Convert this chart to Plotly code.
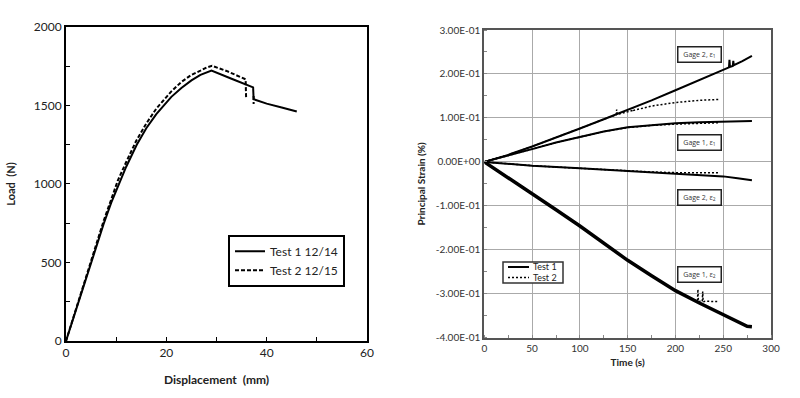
import plotly.graph_objects as go

# ---------------- Left chart: Load vs Displacement ----------------
disp_test1 = [0, 2.5, 5, 7.5, 9, 10.5, 12, 14.1, 16, 18, 19.5, 21, 23, 25, 26.8, 28, 29, 33, 37.3, 37.4, 40, 43, 46]
load_test1 = [0, 250, 500, 745, 880, 1000, 1110, 1250, 1355, 1445, 1500, 1555, 1612, 1660, 1695, 1712, 1722, 1670, 1615, 1540, 1512, 1487, 1462]

disp_test2 = [0, 2.5, 5, 7.5, 9, 10.3, 12, 14, 16, 18, 19.5, 21, 23, 25, 26.8, 28, 29.1, 32, 35.8, 35.9, None, 37.4, 37.4]
load_test2 = [0, 255, 510, 765, 900, 1020, 1140, 1275, 1385, 1480, 1535, 1590, 1650, 1695, 1722, 1742, 1753, 1720, 1667, 1550, None, 1560, 1510]

left_xticks = [0, 20, 40, 60]
left_yticks = [0, 500, 1000, 1500, 2000]

# ---------------- Right chart: Principal strain vs time ----------------
t_g2e1_t1 = [0, 25, 50, 75, 100, 125, 150, 175, 200, 225, 250, 256, 256.5, 257, 260, 260.5, 261, 270, 280]
s_g2e1_t1 = [0, 0.016, 0.035, 0.055, 0.076, 0.097, 0.118, 0.140, 0.163, 0.186, 0.209, 0.215, 0.232, 0.216, 0.218, 0.230, 0.220, 0.229, 0.241]
t_g2e1_t2 = [0, 25, 50, 75, 100, 125, 138, 138.5, 139, 150, 155, 155.5, 156, 175, 200, 225, 245]
s_g2e1_t2 = [0, 0.016, 0.035, 0.055, 0.076, 0.097, 0.107, 0.119, 0.108, 0.114, 0.117, 0.124, 0.117, 0.127, 0.135, 0.140, 0.142]

t_g1e1_t1 = [0, 25, 50, 75, 100, 125, 150, 175, 200, 225, 250, 280]
s_g1e1_t1 = [0, 0.014, 0.029, 0.044, 0.057, 0.069, 0.079, 0.084, 0.088, 0.090, 0.092, 0.093]
t_g1e1_t2 = [0, 25, 50, 75, 100, 125, 150, 175, 200, 225, 245]
s_g1e1_t2 = [0, 0.014, 0.029, 0.044, 0.057, 0.069, 0.078, 0.083, 0.086, 0.088, 0.089]

t_g2e2_t1 = [0, 50, 100, 150, 200, 250, 265, 280]
s_g2e2_t1 = [0, -0.0086, -0.0146, -0.0207, -0.026, -0.033, -0.037, -0.042]
t_g2e2_t2 = [0, 50, 100, 150, 175, 200, 225, 245]
s_g2e2_t2 = [0, -0.0086, -0.0146, -0.0207, -0.023, -0.0245, -0.0245, -0.0245]

t_g1e2_t1 = [0, 25, 50, 75, 100, 125, 150, 175, 200, 225, 250, 265, 275, 280]
s_g1e2_t1 = [0, -0.036, -0.0715, -0.109, -0.146, -0.185, -0.224, -0.259, -0.293, -0.321, -0.348, -0.362, -0.374, -0.375]
t_g1e2_t2 = [0, 25, 50, 75, 100, 125, 150, 175, 200, 220, 223, 223.5, 224, 226, 228, 228.5, 229, 232, 245]
s_g1e2_t2 = [0, -0.036, -0.0715, -0.109, -0.146, -0.185, -0.224, -0.259, -0.293, -0.314, -0.318, -0.290, -0.318, -0.317, -0.318, -0.295, -0.318, -0.317, -0.318]

right_xticks = [0, 50, 100, 150, 200, 250, 300]
right_yticks = [-0.4, -0.3, -0.2, -0.1, 0.0, 0.1, 0.2, 0.3]
right_yticktext = ["-4.00E-01", "-3.00E-01", "-2.00E-01", "-1.00E-01", "0.00E+00", "1.00E-01", "2.00E-01", "3.00E-01"]

gage_labels = ["Gage 2, ε<sub>1</sub>", "Gage 1, ε<sub>1</sub>", "Gage 2, ε<sub>2</sub>", "Gage 1, ε<sub>2</sub>"]
gage_label_t = [225, 225, 225, 225]
gage_label_s = [0.244, 0.043, -0.080, -0.256]

right_legend_names = ["Test 1", "Test 2"]

FONT = "Lato"
LABEL_FONT = "Open Sans, Noto Sans, sans-serif"
fig = go.Figure()

# left traces
fig.add_trace(go.Scatter(x=disp_test1, y=load_test1, mode="lines", name="Test 1 12/14",
                         line=dict(color="black", width=2), xaxis="x", yaxis="y", legend="legend"))
fig.add_trace(go.Scatter(x=disp_test2, y=load_test2, mode="lines", name="Test 2 12/15",
                         line=dict(color="black", width=2, dash="4px,2px"), xaxis="x", yaxis="y",
                         legend="legend", connectgaps=False))

# right traces
pairs_t1 = [(t_g2e1_t1, s_g2e1_t1), (t_g1e1_t1, s_g1e1_t1), (t_g2e2_t1, s_g2e2_t1), (t_g1e2_t1, s_g1e2_t1)]
pairs_t2 = [(t_g2e1_t2, s_g2e1_t2), (t_g1e1_t2, s_g1e1_t2), (t_g2e2_t2, s_g2e2_t2), (t_g1e2_t2, s_g1e2_t2)]
for i, (tt, ss) in enumerate(pairs_t1):
    fig.add_trace(go.Scatter(x=tt, y=ss, mode="lines", name="Test 1", showlegend=False,
                             line=dict(color="black", width=3.5 if i == 3 else 2),
                             xaxis="x2", yaxis="y2"))
for i, (tt, ss) in enumerate(pairs_t2):
    fig.add_trace(go.Scatter(x=tt, y=ss, mode="lines", name="Test 2", showlegend=False,
                             line=dict(color="black", width=1.5, dash="2px,2px"),
                             xaxis="x2", yaxis="y2"))

annotations = []
for txt, tx, sy in zip(gage_labels, gage_label_t, gage_label_s):
    annotations.append(dict(x=tx, y=sy, xref="x2", yref="y2", text=txt, showarrow=False,
                            font=dict(family=LABEL_FONT, size=7, color="#333"),
                            bordercolor="#222", borderwidth=1.5, bgcolor="white",
                            width=40, height=12, borderpad=1))

# compact legend for the right chart (box, line samples, labels)
W, H = 800, 398
def px(x):
    return x / W
def py(y):
    return 1 - y / H

shapes = [
    dict(type="rect", xref="paper", yref="paper", x0=px(503), x1=px(563), y0=py(283), y1=py(262),
         line=dict(color="#333", width=1.5), fillcolor="white", layer="above"),
    dict(type="line", xref="paper", yref="paper", x0=px(508), x1=px(529), y0=py(267), y1=py(267),
         line=dict(color="black", width=2), layer="above"),
    dict(type="line", xref="paper", yref="paper", x0=px(508), x1=px(529), y0=py(277.5), y1=py(277.5),
         line=dict(color="black", width=1.5, dash="2px,2px"), layer="above"),
]
for name, yy in zip(right_legend_names, [266.5, 277]):
    annotations.append(dict(x=px(531), y=py(yy), xref="paper", yref="paper", text=name,
                            showarrow=False, xanchor="left", yanchor="middle",
                            font=dict(family=FONT, size=9, color="#222")))

fig.update_layout(
    width=800, height=398,
    margin=dict(l=0, r=0, t=0, b=0),
    paper_bgcolor="white", plot_bgcolor="white",
    font=dict(family=FONT, color="#222"),
    xaxis=dict(domain=[0.0825, 0.45875], range=[0, 60], tickvals=left_xticks, automargin=False,
               showline=True, linecolor="black", linewidth=2, mirror=True,
               ticks="inside", ticklen=4, tickcolor="black", showgrid=False, zeroline=False,
               minor=dict(ticks="inside", dtick=10, ticklen=4, tickcolor="black"),
               tickfont=dict(size=12, color="#222"),
               title=dict(text="<b>Displacement  (mm)</b>", font=dict(size=12, color="#222"), standoff=16),
               anchor="y"),
    yaxis=dict(domain=[0.1432, 0.9322], range=[0, 2000], tickvals=left_yticks, automargin=False,
               showline=True, linecolor="black", linewidth=2, mirror=True,
               ticks="inside", ticklen=4, tickcolor="black", showgrid=False, zeroline=False,
               minor=dict(ticks="inside", dtick=250, ticklen=4, tickcolor="black"),
               tickfont=dict(size=12, color="#222"),
               title=dict(text="<b>Load  (N)</b>", font=dict(size=11, color="#222"), standoff=16),
               anchor="x"),
    xaxis2=dict(domain=[0.6054, 0.9638], range=[0, 300], tickvals=right_xticks, automargin=False,
                showline=True, linecolor="#555", linewidth=2, mirror=True,
                ticks="", showgrid=True, gridcolor="#aaa", gridwidth=1, zeroline=False,
                minor=dict(ticks="inside", dtick=25, ticklen=3, tickcolor="#888"),
                tickfont=dict(size=10, color="#333"),
                title=dict(text="<b>Time (s)</b>", font=dict(size=10, color="#222"), standoff=6),
                anchor="y2"),
    yaxis2=dict(domain=[0.1515, 0.9246], range=[-0.4, 0.3], tickvals=right_yticks,
                ticktext=right_yticktext, automargin=False,
                showline=True, linecolor="#555", linewidth=2, mirror=True,
                ticks="", showgrid=True, gridcolor="#aaa", gridwidth=1, zeroline=False,
                minor=dict(ticks="inside", dtick=0.05, ticklen=3, tickcolor="#888"),
                tickfont=dict(size=10, color="#333"),
                title=dict(text="<b>Principal Strain (%)</b>", font=dict(size=10, color="#222"), standoff=8),
                anchor="x2"),
    legend=dict(x=0.285, y=0.41, xanchor="left", yanchor="top", bordercolor="black", borderwidth=2,
                bgcolor="white", font=dict(size=12, color="#222"), tracegroupgap=0),
    annotations=annotations,
    shapes=shapes,
    showlegend=True,
)

fig.write_html("out.html", post_script="document.body.style.margin='0';",
               config={"displayModeBar": False})
